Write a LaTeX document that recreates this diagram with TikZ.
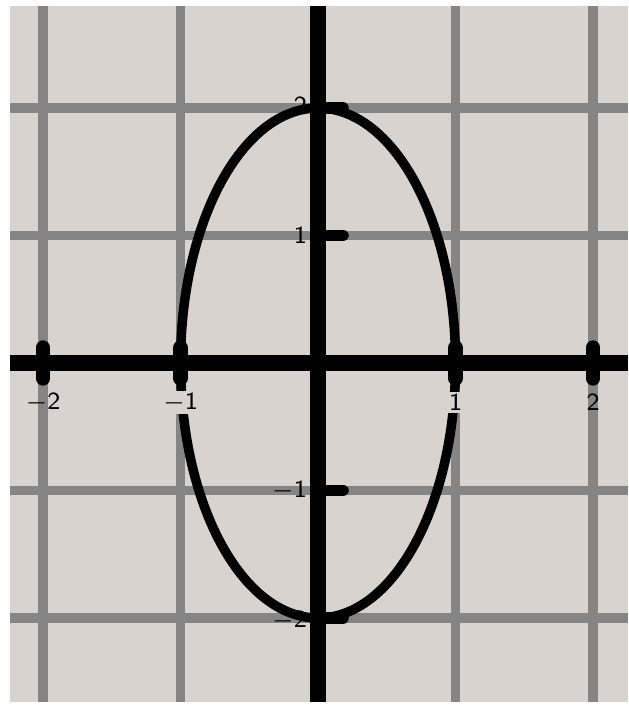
\documentclass[tikz,border=0pt]{standalone}
\usepackage{tikz}
\usetikzlibrary{positioning}
\definecolor{paper}{HTML}{D9D3CF}
\definecolor{gridgray}{HTML}{858585}

\begin{document}
\begin{tikzpicture}[x=1.375cm, y=1.275cm,
        gridline/.style={gridgray, line width=2.6pt},
        axisline/.style={black, line width=4.6pt},
        xtick/.style={black, line width=4.2pt, line cap=round},
        ytick/.style={black, line width=3.4pt, line cap=round},
        cutlabel/.style={fill=paper, inner ysep=0.5pt},
        every node/.style={font=\fontsize{7}{8}\selectfont\sffamily, inner sep=1pt}]
      \useasboundingbox (-2.313,-2.690) rectangle (2.255,2.847);
      \fill[paper] (-2.24,-2.66) rectangle (2.255,2.80);
      % grid
      \foreach \k in {-2,-1,1,2} {
        \draw[gridline] (\k,-2.66) -- (\k,2.80);
        \draw[gridline] (-2.24,\k) -- (2.255,\k);
      }
      % axes
      \draw[axisline] (-2.24,0) -- (2.255,0);
      \draw[axisline] (0,-2.66) -- (0,2.80);
      % ticks
      \foreach \k in {-2,-1,1,2} {
        \draw[xtick] (\k,-0.12) -- (\k,0.12);
        \draw[ytick] (0,\k) -- (0.18,\k);
      }
      % curve
      \draw[black, line width=2.7pt] (0,0) ellipse [x radius=1, y radius=2];
      % labels
      \node (xm2) at (-2,-0.31) {$-$2};
      \node[cutlabel] (xm1) at (-1,-0.31) {$-$1};
      \node[cutlabel] (xp1) at (1,-0.31)  {1};
      \node (xp2) at (2,-0.31)  {2};
      \node[anchor=east] (yp2) at (-0.05,2.02)  {2};
      \node[anchor=east] (yp1) at (-0.05,1.0)   {1};
      \node[anchor=east] (ym1) at (-0.05,-1.0)  {$-$1};
      \node[anchor=east] (ym2) at (-0.05,-2.02) {$-$2};
    \end{tikzpicture}
\end{document}
